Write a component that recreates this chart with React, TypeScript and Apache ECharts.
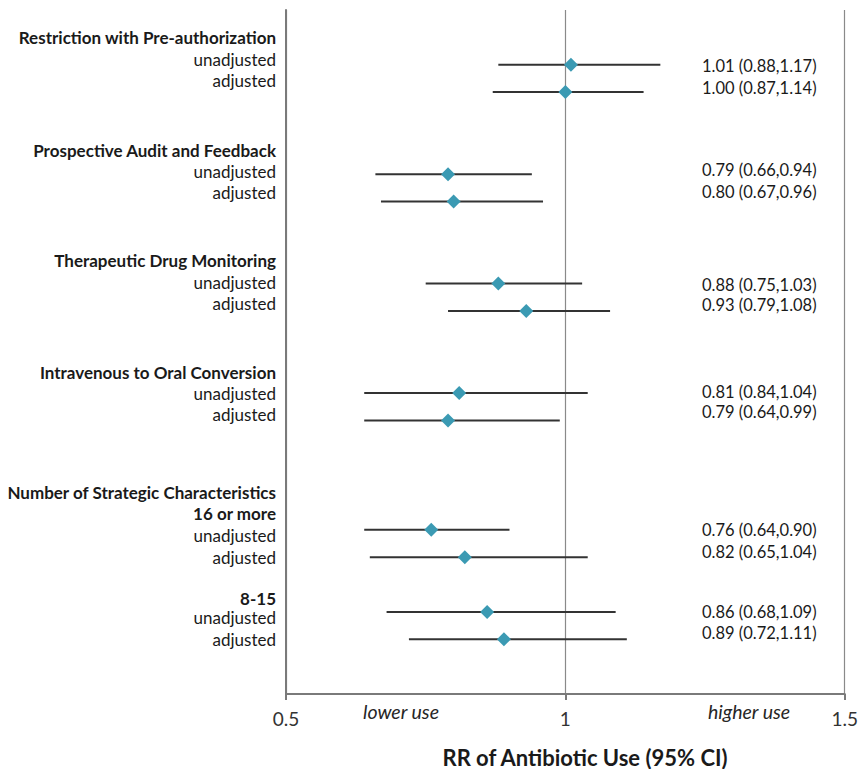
import React, { useEffect, useRef } from "react";
import * as echarts from "echarts";

// Plot rows, top to bottom (category axis). Blank rows are spacing.
const rowCategories: string[] = [
  "", "Restriction with Pre-authorization", "Restriction unadjusted", "Restriction adjusted",
  "", "Prospective Audit and Feedback", "Prospective unadjusted", "Prospective adjusted",
  "", "Therapeutic Drug Monitoring", "TDM unadjusted", "TDM adjusted",
  "", "Intravenous to Oral Conversion", "IV unadjusted", "IV adjusted",
  "", "Number of Strategic Characteristics", "16 or more", "16+ unadjusted", "16+ adjusted",
  "8-15", "8-15 unadjusted", "8-15 adjusted", "", "",
];

// Rows carrying an estimate
const estimateRows: string[] = [
  "Restriction unadjusted", "Restriction adjusted",
  "Prospective unadjusted", "Prospective adjusted",
  "TDM unadjusted", "TDM adjusted",
  "IV unadjusted", "IV adjusted",
  "16+ unadjusted", "16+ adjusted",
  "8-15 unadjusted", "8-15 adjusted",
];
const estimates: number[] = [1.01, 1.0, 0.79, 0.8, 0.88, 0.93, 0.81, 0.79, 0.76, 0.82, 0.86, 0.89];
const lowerCI: number[] = [0.88, 0.87, 0.66, 0.67, 0.75, 0.79, 0.64, 0.64, 0.64, 0.65, 0.68, 0.72];
const upperCI: number[] = [1.17, 1.14, 0.94, 0.96, 1.03, 1.08, 1.04, 0.99, 0.9, 1.04, 1.09, 1.11];
const estimateLabels: string[] = [
  "1.01 (0.88,1.17)", "1.00 (0.87,1.14)",
  "0.79 (0.66,0.94)", "0.80 (0.67,0.96)",
  "0.88 (0.75,1.03)", "0.93 (0.79,1.08)",
  "0.81 (0.84,1.04)", "0.79 (0.64,0.99)",
  "0.76 (0.64,0.90)", "0.82 (0.65,1.04)",
  "0.86 (0.68,1.09)", "0.89 (0.72,1.11)",
];

// Left-hand text block (text, bold)
const leftLabelText: string[] = [
  "Restriction with Pre-authorization", "unadjusted", "adjusted",
  "Prospective Audit and Feedback", "unadjusted", "adjusted",
  "Therapeutic Drug Monitoring", "unadjusted", "adjusted",
  "Intravenous to Oral Conversion", "unadjusted", "adjusted",
  "Number of Strategic Characteristics", "16 or more", "unadjusted", "adjusted",
  "8-15", "unadjusted", "adjusted",
];
const leftLabelBold: boolean[] = [
  true, false, false, true, false, false, true, false, false, true, false, false,
  true, true, false, false, true, false, false,
];

const xMin = 0.5;
const xMax = 1.5;
const xInterval = 0.5;
const lowerText = "lower use";
const higherText = "higher use";
const axisTitle = "RR of Antibiotic Use (95% CI)";

// Layout (pixels)
const leftLabelY = [37, 59, 80, 150, 171, 192, 260, 282, 303, 372, 393, 414, 492, 513, 535, 557, 598, 617, 639];
const rightLabelY = [66, 88, 170, 192, 285, 305, 392, 412, 530, 552, 612, 633];

const FONT = "Lato, 'Noto Sans', sans-serif";

export default function App() {
  const ref = useRef<HTMLDivElement>(null);

  useEffect(() => {
    if (!ref.current) return;
    const chart = echarts.init(ref.current, null, { renderer: "svg" });

    const rowIndex = estimateRows.map((r) => rowCategories.indexOf(r));

    const textEl = (
      text: string,
      x: number,
      y: number,
      align: string,
      opts: Record<string, any> = {}
    ) => ({
      type: "text",
      x,
      y,
      silent: true,
      style: {
        text,
        x: 0,
        y: 0,
        align,
        textAlign: align,
        verticalAlign: "middle",
        textVerticalAlign: "middle",
        fontFamily: FONT,
        fontSize: 17,
        fill: "#1a1a1a",
        ...opts,
      },
    });

    const graphics: any[] = [];
    leftLabelText.forEach((t, i) => {
      graphics.push(
        textEl(t, 276, leftLabelY[i], "right", {
          fontWeight: leftLabelBold[i] ? "bold" : "normal",
        })
      );
    });
    estimateLabels.forEach((t, i) => {
      graphics.push(textEl(t, 702, rightLabelY[i], "left", { fontSize: 16.5 }));
    });
    graphics.push(textEl(lowerText, 401, 711, "center", { fontStyle: "italic", fontSize: 19.5, fill: "#262626" }));
    graphics.push(textEl(higherText, 749, 711, "center", { fontStyle: "italic", fontSize: 19.5, fill: "#262626" }));
    graphics.push(
      textEl(axisTitle, 585, 757, "center", { fontWeight: "bold", fontSize: 22, fill: "#1a1a1a" })
    );

    chart.setOption({
      animation: false,
      backgroundColor: "#ffffff",
      grid: { left: 286, right: 13, top: 10, bottom: 75, containLabel: false },
      xAxis: {
        type: "value",
        min: xMin,
        max: xMax,
        interval: xInterval,
        axisLine: { show: true, onZero: false, lineStyle: { color: "#7a7a7a", width: 2 } },
        axisTick: { show: true, length: 6, lineStyle: { color: "#7a7a7a", width: 2 } },
        axisLabel: {
          show: true,
          margin: 15,
          fontFamily: FONT,
          fontSize: 19,
          color: "#333333",
          formatter: (v: number) => String(v),
        },
        splitLine: { show: true, lineStyle: { color: "#8a8a8a", width: 1.2 } },
      },
      yAxis: {
        type: "category",
        data: rowCategories,
        inverse: true,
        boundaryGap: false,
        axisLine: { show: true, lineStyle: { color: "#7a7a7a", width: 2 } },
        axisTick: { show: false },
        axisLabel: { show: false },
        splitLine: { show: false },
      },
      series: [
        {
          type: "custom",
          name: "95% CI",
          renderItem: (params: any, api: any) => {
            const y = api.value(0);
            const p1 = api.coord([api.value(1), y]);
            const p2 = api.coord([api.value(2), y]);
            return {
              type: "line",
              shape: { x1: p1[0], y1: p1[1], x2: p2[0], y2: p2[1] },
              style: { stroke: "#333333", lineWidth: 2 },
            };
          },
          encode: { x: [1, 2], y: 0 },
          data: rowIndex.map((r, i) => [r, lowerCI[i], upperCI[i]]),
          z: 2,
        },
        {
          type: "scatter",
          name: "RR",
          symbol: "diamond",
          symbolSize: [14, 14],
          itemStyle: { color: "#3b9ab3", opacity: 1 },
          data: rowIndex.map((r, i) => [estimates[i], r]),
          z: 3,
        },
      ],
      graphic: graphics,
    });

    return () => chart.dispose();
  }, []);

  return (
    <div
      ref={ref}
      style={{ position: "fixed", left: 0, top: 0, width: 861, height: 769, background: "#fff" }}
    />
  );
}
